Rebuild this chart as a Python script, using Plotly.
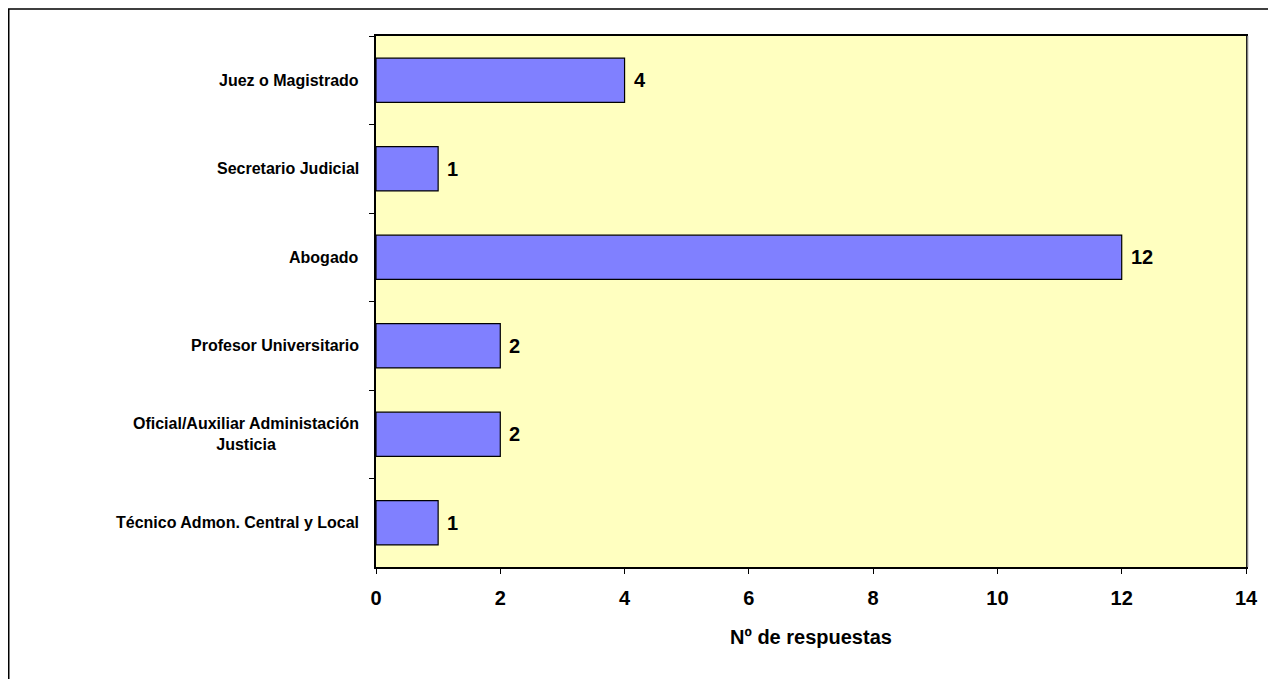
import plotly.graph_objects as go

# categories top to bottom
categorias = [
    "Juez o Magistrado",
    "Secretario Judicial",
    "Abogado",
    "Profesor Universitario",
    "Oficial/Auxiliar Administación<br>Justicia",
    "Técnico Admon. Central y Local",
]
respuestas = [4, 1, 12, 2, 2, 1]
x_ticks = [0, 2, 4, 6, 8, 10, 12, 14]

FONT = "Arial, Liberation Sans, sans-serif"

# page body has an 8px margin, so the figure is sized to fit the window
W, H = 1268, 671
L, R, T, B = 368, 30, 28, 112
PW, PH = W - L - R, H - T - B

fig = go.Figure()

fig.add_trace(
    go.Bar(
        y=categorias,
        x=respuestas,
        orientation="h",
        width=0.5,
        marker=dict(color="#8080FF", line=dict(color="black", width=1.2)),
        hoverinfo="x+y",
    )
)

# value labels to the right of each bar
for cat, val in zip(categorias, respuestas):
    fig.add_annotation(
        x=val,
        y=cat,
        text=str(val),
        showarrow=False,
        xanchor="left",
        yanchor="middle",
        xshift=7,
        font=dict(family=FONT, size=20, color="black", weight="bold"),
    )

# category labels as annotations so the two-line one stays centred
for cat in categorias:
    fig.add_annotation(
        x=0,
        xref="paper",
        y=cat,
        yref="y",
        text=cat,
        showarrow=False,
        xanchor="right",
        yanchor="middle",
        align="center",
        xshift=-15,
        font=dict(family=FONT, size=16, color="black", weight="bold"),
    )

# outer chart border
fig.add_shape(
    type="rect",
    xref="paper",
    yref="paper",
    x0=(0.75 - L) / PW,
    x1=1.2,
    y0=-0.4,
    y1=1 + (T - 1) / PH,
    line=dict(color="black", width=1.5),
    layer="below",
)
# grey shadow on the right of the plot area
fig.add_shape(
    type="line",
    xref="paper",
    yref="paper",
    x0=1 + 1.5 / PW,
    x1=1 + 1.5 / PW,
    y0=0,
    y1=1,
    line=dict(color="#808080", width=1.5),
)

fig.update_xaxes(
    range=[0, 14],
    tickvals=x_ticks,
    ticks="outside",
    ticklen=5,
    tickcolor="black",
    ticklabelstandoff=7,
    showgrid=False,
    zeroline=False,
    showline=True,
    linecolor="black",
    linewidth=1.5,
    mirror=True,
    tickfont=dict(family=FONT, size=20, color="black", weight="bold"),
    title=dict(
        text="Nº de respuestas",
        font=dict(family=FONT, size=20, color="black", weight="bold"),
        standoff=22,
    ),
)
fig.update_yaxes(
    categoryorder="array",
    categoryarray=categorias,
    autorange="reversed",
    showticklabels=False,
    ticks="outside",
    tickson="boundaries",
    ticklen=5,
    tickcolor="black",
    showgrid=False,
    showline=True,
    linecolor="black",
    linewidth=1.5,
    mirror=True,
)

fig.update_layout(
    width=W,
    height=H,
    margin=dict(l=L, r=R, t=T, b=B),
    plot_bgcolor="#FFFFC0",
    paper_bgcolor="white",
    showlegend=False,
)

fig.write_html("out.html")
